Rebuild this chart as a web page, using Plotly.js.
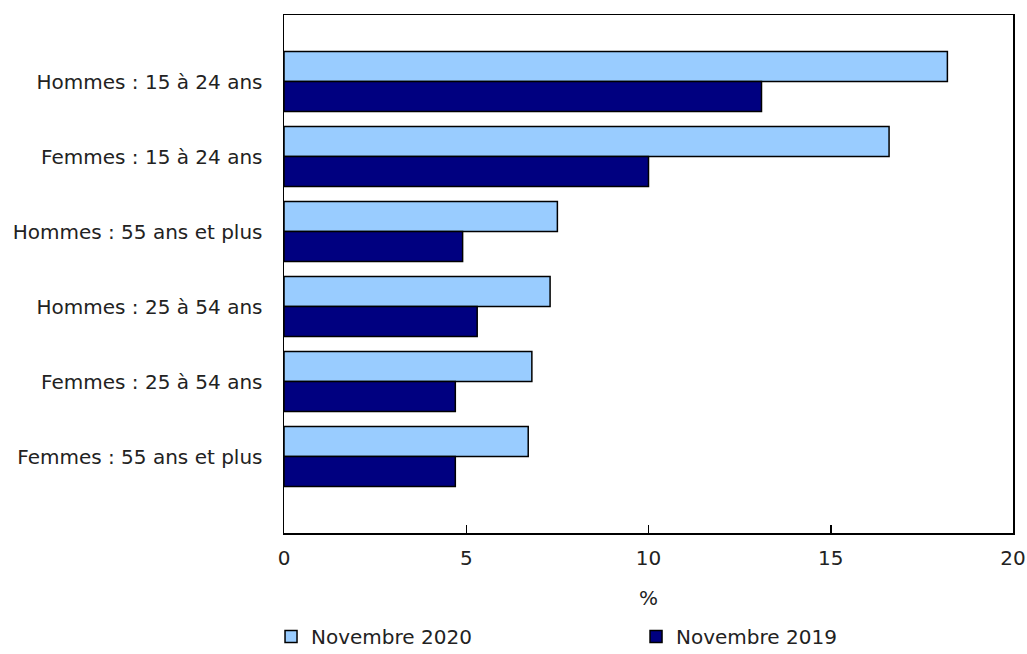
<!DOCTYPE html>
<html>
<head>
<meta charset="utf-8">
<script src="https://cdn.plot.ly/plotly-3.0.1.min.js"></script>
<style>html,body{margin:0;padding:0;background:#fff;}#chart{width:1027px;height:654px;}</style>
</head>
<body>
<div id="chart"></div>
<script>
const categories = ["Hommes : 15 à 24 ans", "Femmes : 15 à 24 ans", "Hommes : 55 ans et plus", "Hommes : 25 à 54 ans", "Femmes : 25 à 54 ans", "Femmes : 55 ans et plus"];
const nov2020 = [18.2, 16.6, 7.5, 7.3, 6.8, 6.7];
const nov2019 = [13.1, 10.0, 4.9, 5.3, 4.7, 4.7];
const seriesNames = ["Novembre 2020", "Novembre 2019"];
const xTicks = [0, 5, 10, 15, 20];

const font = {family: "DejaVu Sans, Verdana, sans-serif", size: 20, color: "#222"};
const traces = [
  {type: "bar", orientation: "h", name: seriesNames[0], y: categories, x: nov2020,
   legend: "legend",
   marker: {color: "#99CCFF", line: {color: "#000", width: 1.5}}},
  {type: "bar", orientation: "h", name: seriesNames[1], y: categories, x: nov2019,
   legend: "legend2",
   marker: {color: "#000080", line: {color: "#000", width: 1.5}}}
];
const legBase = {orientation: "h", xanchor: "left", y: -0.2, yanchor: "middle", font: font};
const layout = {
  width: 1027, height: 654,
  margin: {l: 284, r: 14, t: 15, b: 121, autoexpand: false},
  paper_bgcolor: "#fff", plot_bgcolor: "#fff",
  font: font,
  barmode: "group", bargap: 0.2, bargroupgap: 0,
  showlegend: true,
  legend: Object.assign({}, legBase, {x: -0.0178}),
  legend2: Object.assign({}, legBase, {x: 0.4829}),
  xaxis: {range: [0, 20], tickvals: xTicks, ticktext: xTicks.map(String),
          ticks: "inside", ticklen: 8, tickcolor: "#000", tickwidth: 1.5,
          ticklabelstandoff: 6,
          showline: true, linecolor: "#000", linewidth: 1.5, mirror: true,
          showgrid: false, zeroline: false, fixedrange: true,
          title: {text: "%", font: font, standoff: 22}},
  yaxis: {type: "category", categoryorder: "array", categoryarray: categories,
          range: [6.02, -0.887], ticks: "", ticklabelstandoff: 16,
          showline: true, linecolor: "#000", linewidth: 1.5, mirror: true,
          showgrid: false, zeroline: false, fixedrange: true}
};
Plotly.newPlot("chart", traces, layout, {displayModeBar: false, staticPlot: true});
</script>
</body>
</html>
